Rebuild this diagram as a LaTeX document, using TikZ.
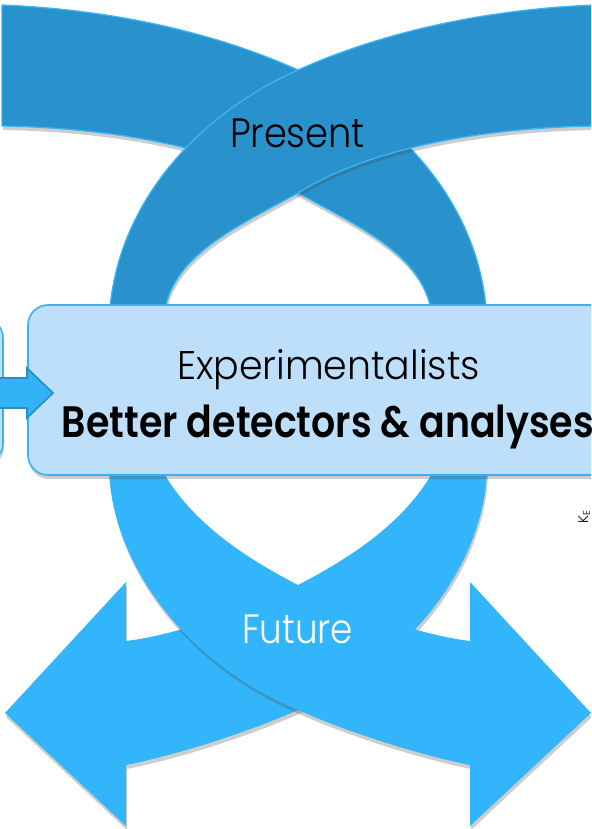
\documentclass[tikz,border=0pt]{standalone}
\usepackage{fontspec}
\setmainfont{Poppins Light}[BoldFont={Poppins SemiBold}]
\usetikzlibrary{shadows}
\definecolor{darkc}{RGB}{41,145,204}
\definecolor{ribedge}{RGB}{56,182,245}
\definecolor{lightc}{RGB}{51,181,251}
\definecolor{boxfill}{RGB}{190,223,250}
\definecolor{boxedge}{RGB}{58,176,240}
\definecolor{arrfill}{RGB}{51,178,245}
\definecolor{arredge}{RGB}{40,140,198}
\begin{document}
\begin{tikzpicture}[x=1pt,y=-1pt,
  softshade/.style={drop shadow={shadow xshift=1pt,shadow yshift=-4pt,opacity=0.28,fill=black!70}},
  darkrib/.style={fill=darkc,draw=ribedge,line width=1.3pt,line join=round,softshade},
  lightrib/.style={fill=lightc,softshade},
  boxst/.style={fill=boxfill,draw=boxedge,line width=1.6pt,rounded corners=20pt,softshade},
  arrowst/.style={fill=arrfill,draw=arredge,line width=1.6pt,line join=miter},
  lbl/.style={anchor=base,inner sep=0pt}]
\useasboundingbox (0,0) rectangle (591,829);
\clip (0,0) rectangle (591,829);
% top ribbon from the left (underneath)
\path[darkrib] (2,5) .. controls (120,10) and (220,35) .. (298,70)
  .. controls (400,115) and (487,210) .. (487,330) -- (487,400) -- (433,400) -- (433,330)
  .. controls (433,262) and (375,235) .. (298,193)
  .. controls (230,150) and (120,128) .. (2,126) -- cycle;
% top ribbon from the right (on top)
\begin{scope}[shift={(596,0)},xscale=-1]
\path[darkrib] (2,5) .. controls (120,10) and (220,35) .. (298,70)
  .. controls (400,115) and (487,210) .. (487,330) -- (487,400) -- (433,400) -- (433,330)
  .. controls (433,262) and (375,235) .. (298,193)
  .. controls (230,150) and (120,128) .. (2,126) -- cycle;
\end{scope}
% bottom ribbon to the left arrow (underneath)
\begin{scope}[shift={(596,0)},xscale=-1]
\path[lightrib] (109,390) -- (109,470) .. controls (112,560) and (180,660) .. (298,710)
  .. controls (350,733) and (420,755) .. (470,765) -- (470,826) -- (591,713) -- (470,582) -- (470,641)
  .. controls (420,635) and (350,610) .. (298,585)
  .. controls (240,555) and (190,520) .. (162,470) -- (162,390) -- cycle;
\end{scope}
% bottom ribbon to the right arrow (on top)
\path[lightrib] (109,390) -- (109,470) .. controls (112,560) and (180,660) .. (298,710)
  .. controls (350,733) and (420,755) .. (470,765) -- (470,826) -- (591,713) -- (470,582) -- (470,641)
  .. controls (420,635) and (350,610) .. (298,585)
  .. controls (240,555) and (190,520) .. (162,470) -- (162,390) -- cycle;
% boxes
\path[boxst] (-100,318) rectangle (3,463);
\path[boxst] (28,305) rectangle (650,475);
\path[arrowst] (-5,378) -- (27,378) -- (27,368) -- (53,393) -- (27,418) -- (27,408) -- (-5,408) -- cycle;
% texts
\node[lbl] (present) at (297.5,148) {\resizebox{135pt}{\height}{\fontsize{41}{41}\selectfont Present}};
\node[lbl,text=white] (future) at (297.5,643) {\resizebox{111pt}{\height}{\fontsize{41}{41}\selectfont Future}};
\node[lbl] (expt) at (328.5,379.5) {\resizebox{303pt}{\height}{\fontsize{40}{40}\selectfont Experimentalists}};
\node[lbl] (better) at (328,437) {\resizebox{532pt}{\height}{\fontsize{44}{44}\selectfont\bfseries Better detectors \& analyses}};
\node[lbl,rotate=90,font=\fontsize{14}{14}\selectfont] (ke) at (588,517) {K\textsubscript{E}};
\end{tikzpicture}
\end{document}
